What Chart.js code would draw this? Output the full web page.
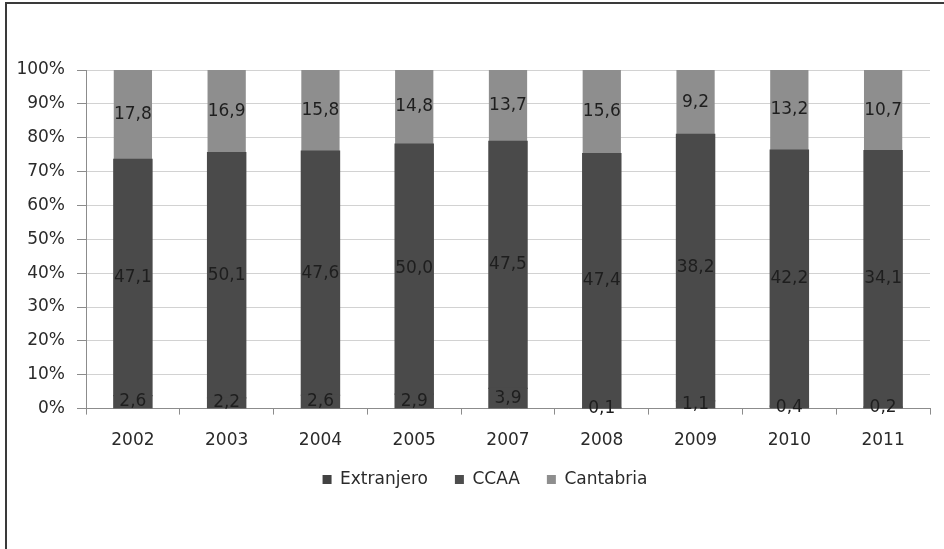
<!DOCTYPE html>
<html lang="es">
<head>
  <meta charset="UTF-8">
  <title>Procedencia por año</title>
  <script src="https://cdn.jsdelivr.net/npm/chart.js"></script>
  <style>
    html, body { margin: 0; padding: 0; background: #fff; }
    #wrap { position: relative; width: 944px; height: 549px; }
    #frame { position: absolute; left: 5px; top: 2px; right: 0; bottom: 0;
             border-left: 2px solid #3a3a3a; border-top: 2px solid #3a3a3a; }
    canvas { position: absolute; left: 0; top: 0; }
  </style>
</head>
<body>
  <div id="wrap">
    <div id="frame"></div>
    <canvas id="chart" width="944" height="549"></canvas>
  </div>

  <script>
    const years = ['2002', '2003', '2004', '2005', '2007', '2008', '2009', '2010', '2011'];
    const extranjero = [2.6, 2.2, 2.6, 2.9, 3.9, 0.1, 1.1, 0.4, 0.2];
    const ccaa = [47.1, 50.1, 47.6, 50.0, 47.5, 47.4, 38.2, 42.2, 34.1];
    const cantabria = [17.8, 16.9, 15.8, 14.8, 13.7, 15.6, 9.2, 13.2, 10.7];
    const yTicks = [0, 10, 20, 30, 40, 50, 60, 70, 80, 90, 100];

    // each bar is scaled to 100% of its year total
    const totals = years.map((_, i) => extranjero[i] + ccaa[i] + cantabria[i]);
    const share = arr => arr.map((v, i) => v / totals[i] * 100);

    const FONT = '"DejaVu Sans", sans-serif';
    const legendColors = ['#424242', '#4d4d4d', '#8e8e8e'];

    // raw values written in the middle of each segment
    const segmentLabels = {
      id: 'segmentLabels',
      afterDatasetsDraw(chart) {
        const ctx = chart.ctx;
        ctx.save();
        ctx.font = '17px ' + FONT;
        ctx.fillStyle = '#1e1e1e';
        ctx.textAlign = 'center';
        ctx.textBaseline = 'middle';
        chart.data.datasets.forEach((ds, di) => {
          const meta = chart.getDatasetMeta(di);
          meta.data.forEach((bar, i) => {
            const p = bar.getCenterPoint();
            ctx.fillText(ds.raw[i].toFixed(1).replace('.', ','), p.x, p.y);
          });
        });
        ctx.restore();
      }
    };

    // pull the legend up under the year labels and a bit to the right
    const legendNudge = {
      id: 'legendNudge',
      afterLayout(chart) {
        const lg = chart.legend;
        const dx = 16, dy = chart.scales.x.bottom - 23 - lg.top;
        lg.left += dx; lg.right += dx;
        lg.top += dy; lg.bottom += dy;
      }
    };

    new Chart(document.getElementById('chart'), {
      type: 'bar',
      data: {
        labels: years,
        datasets: [
          { label: 'Extranjero', data: share(extranjero), raw: extranjero, backgroundColor: '#4a4a4a', inflateAmount: 0.6 },
          { label: 'CCAA', data: share(ccaa), raw: ccaa, backgroundColor: '#4a4a4a', inflateAmount: 0.6 },
          { label: 'Cantabria', data: share(cantabria), raw: cantabria, backgroundColor: '#8e8e8e' }
        ]
      },
      options: {
        responsive: false,
        animation: false,
        categoryPercentage: 0.8,
        barPercentage: 0.51,
        layout: { padding: { top: 70, left: 8, right: 14, bottom: 28 } },
        plugins: {
          tooltip: { enabled: false },
          legend: {
            position: 'bottom',
            labels: {
              boxWidth: 9, boxHeight: 9, padding: 27,
              color: '#2a2a2a', font: { family: FONT, size: 17 },
              generateLabels(chart) {
                return chart.data.datasets.map((ds, i) => ({
                  text: ds.label,
                  fillStyle: legendColors[i],
                  strokeStyle: legendColors[i],
                  lineWidth: 0,
                  fontColor: '#2a2a2a',
                  datasetIndex: i
                }));
              }
            }
          }
        },
        scales: {
          x: {
            stacked: true,
            grid: { offset: true, drawOnChartArea: false, tickLength: 6, color: '#8c8c8c' },
            border: { color: '#8c8c8c' },
            ticks: { color: '#2a2a2a', padding: 16, font: { family: FONT, size: 17 } }
          },
          y: {
            stacked: true,
            min: 0, max: 100,
            afterFit(scale) { scale.width = 78; },
            afterBuildTicks(scale) { scale.ticks = yTicks.map(v => ({ value: v })); },
            grid: { color: '#d2d2d2', tickLength: 9, tickColor: '#8c8c8c' },
            border: { color: '#8c8c8c' },
            ticks: {
              color: '#2a2a2a', padding: 12, font: { family: FONT, size: 17 },
              callback: v => v + '%'
            }
          }
        }
      },
      plugins: [segmentLabels, legendNudge]
    });
  </script>
</body>
</html>
